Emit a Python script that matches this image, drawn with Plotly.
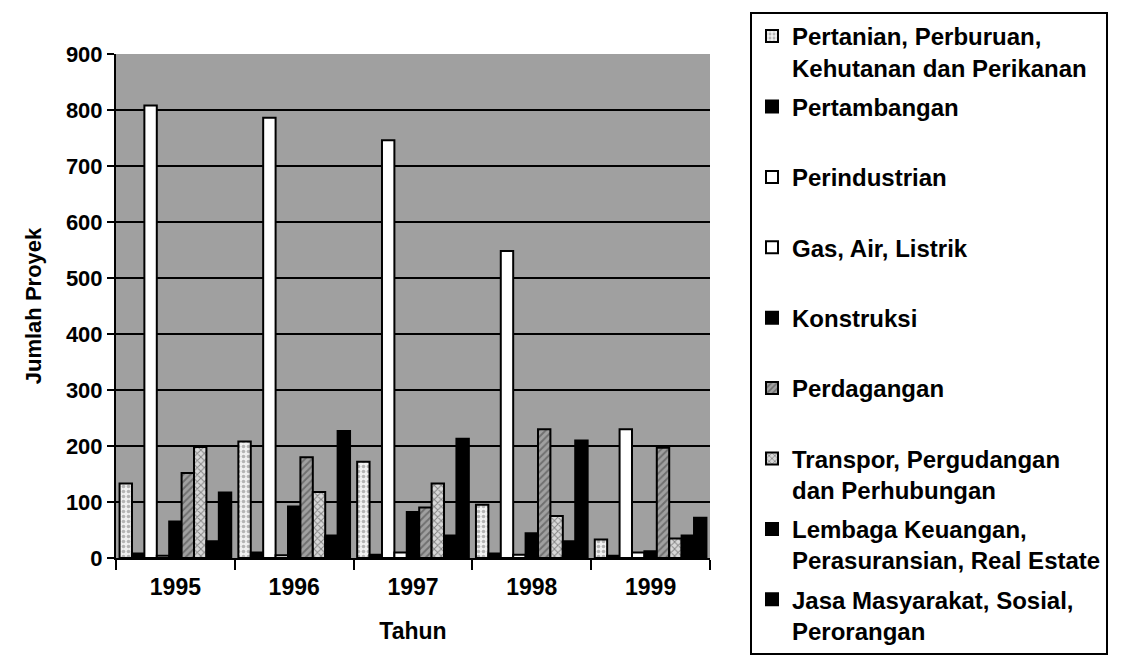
import plotly.graph_objects as go

years = ["1995", "1996", "1997", "1998", "1999"]

pertanian = [133, 208, 172, 95, 33]
pertambangan = [8, 10, 6, 8, 4]
perindustrian = [808, 786, 746, 548, 230]
gas = [4, 5, 10, 6, 10]
konstruksi = [65, 92, 82, 44, 12]
perdagangan = [152, 180, 90, 230, 197]
transpor = [198, 118, 133, 75, 35]
lembaga = [30, 40, 40, 30, 40]
jasa = [117, 227, 213, 210, 72]

names = [
    "Pertanian, Perburuan,<br>Kehutanan dan Perikanan",
    "Pertambangan<br>\u00a0",
    "Perindustrian<br>\u00a0",
    "Gas, Air, Listrik<br>\u00a0",
    "Konstruksi<br>\u00a0",
    "Perdagangan<br>\u00a0",
    "Transpor, Pergudangan<br>dan Perhubungan",
    "Lembaga Keuangan,<br>Perasuransian, Real Estate",
    "Jasa Masyarakat, Sosial,<br>Perorangan",
]
series = [pertanian, pertambangan, perindustrian, gas, konstruksi,
          perdagangan, transpor, lembaga, jasa]

styles = [
    dict(color="#e8e8e8", pattern=dict(shape=".", fgcolor="#777777", bgcolor="#f0f0f0", size=5, solidity=0.4)),
    dict(color="black"),
    dict(color="white"),
    dict(color="white"),
    dict(color="black"),
    dict(color="#909090", pattern=dict(shape="/", fgcolor="#404040", bgcolor="#a0a0a0", size=5, solidity=0.4)),
    dict(color="#c0c0c0", pattern=dict(shape="x", fgcolor="#303030", bgcolor="#d8d8d8", size=5, solidity=0.35)),
    dict(color="black"),
    dict(color="black"),
]

fig = go.Figure()
for i, (nm, vals, st) in enumerate(zip(names, series, styles)):
    marker = dict(color=st["color"], line=dict(color="black", width=2))
    if "pattern" in st:
        marker["pattern"] = st["pattern"]
    fig.add_trace(go.Bar(x=years, y=vals, name=nm, marker=marker,
                         legendgroup=f"g{i}"))

font_family = "Liberation Sans, Arial, sans-serif"

# page body has an 8px default margin
plot_l, plot_t, plot_w, plot_h = 108, 46, 594, 504

fig.update_layout(
    width=1143, height=655,
    barmode="group", bargap=0.06, bargroupgap=0,
    paper_bgcolor="white",
    plot_bgcolor="#a0a0a0",
    margin=dict(l=plot_l, r=1143 - plot_l - plot_w, t=plot_t,
                b=655 - plot_t - plot_h, autoexpand=False),
    font=dict(family=font_family, size=20, color="black"),
    showlegend=True,
    legend=dict(
        x=(742 - plot_l) / plot_w, xanchor="left",
        y=(plot_t + plot_h - 4) / plot_h, yanchor="top",
        bordercolor="black", borderwidth=2, bgcolor="white",
        font=dict(family=font_family, size=24, color="black", weight="bold"),
        tracegroupgap=5,
        traceorder="grouped",
        valign="top",
        itemsizing="constant",
        maxheight=650,
    ),
    xaxis=dict(
        title=dict(text="<b>Tahun</b>", font=dict(size=23), standoff=24),
        tickfont=dict(size=23, weight="bold"),
        ticklabelstandoff=7,
        showline=True, linecolor="black", linewidth=2,
        ticks="outside", ticklen=10, tickwidth=2, tickcolor="black",
        tickson="boundaries",
        showgrid=False, automargin=False,
    ),
    yaxis=dict(
        title=dict(text="<b>Jumlah Proyek</b>", font=dict(size=22), standoff=18),
        range=[0, 900], dtick=100,
        tickfont=dict(size=22, weight="bold"),
        showline=True, linecolor="black", linewidth=2,
        ticks="outside", ticklen=7, tickwidth=2, tickcolor="black",
        showgrid=True, gridcolor="black", gridwidth=2,
        zeroline=False, automargin=False,
    ),
)

fig.write_html("out.html")
